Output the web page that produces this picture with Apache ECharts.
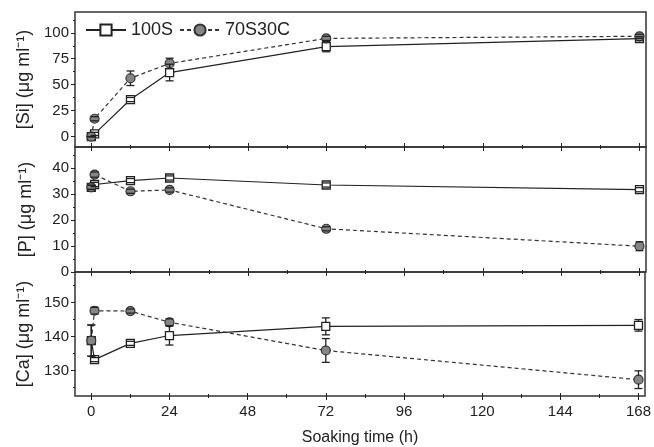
<!DOCTYPE html>
<html>
<head>
<meta charset="utf-8">
<title>Si P Ca release</title>
<style>
  html, body { margin: 0; padding: 0; background: #fff; }
  #chart { width: 654px; height: 447px; }
</style>
</head>
<body>
<div id="chart"></div>
<script src="https://cdn.jsdelivr.net/npm/echarts@6/dist/echarts.min.js"></script>
<script>
// soaking times (h)
const hours = [0, 1, 12, 24, 72, 168];

// [Si]
const siPure = [0, 2.6, 35.7, 61.7, 86.7, 94.3];
const siPureErr = [0, 1.5, 2, 8, 5, 2];
const siMix = [0, 17.2, 56.2, 70.5, 94.6, 96.6];
const siMixErr = [0, 2, 7, 5, 2, 2];

// [P]
const pPure = [32.5, 33.6, 35.1, 36.1, 33.4, 31.6];
const pPureErr = [0.8, 0.8, 0.8, 0.8, 0.8, 0.8];
const pMix = [32.5, 37.4, 31.0, 31.5, 16.6, 9.9];
const pMixErr = [0.8, 1, 0.8, 0.8, 0.8, 1.7];

// [Ca]
const caPure = [138.8, 133.2, 138.0, 140.3, 143.0, 143.3];
const caPureErr = [4.6, 0.6, 0.6, 2.8, 2.5, 1.7];
const caMix = [138.8, 147.6, 147.5, 144.2, 135.9, 127.3];
const caMixErr = [4.6, 1, 0.6, 1, 3.5, 2.6];

// ticks
const xTicks = [0, 24, 48, 72, 96, 120, 144, 168];
const xMinor = [12, 36, 60, 84, 108, 132, 156];
const siTicks = [0, 25, 50, 75, 100];
const siMinor = [12.5, 37.5, 62.5, 87.5, 112.5];
const pTicks = [0, 10, 20, 30, 40];
const pMinor = [5, 15, 25, 35, 45];
const caTicks = [130, 140, 150];
const caMinor = [125, 135, 145, 155];

const seriesNames = ['100S', '70S30C'];

const panels = [
  { name: '[Si] (μg ml⁻¹)', min: -10, max: 120, ticks: siTicks, minor: siMinor,
    pure: siPure, pureErr: siPureErr, mix: siMix, mixErr: siMixErr },
  { name: '[P] (μg ml⁻¹)', min: 0, max: 48, ticks: pTicks, minor: pMinor,
    pure: pPure, pureErr: pPureErr, mix: pMix, mixErr: pMixErr },
  { name: '[Ca] (μg ml⁻¹)', min: 122.5, max: 159, ticks: caTicks, minor: caMinor,
    pure: caPure, pureErr: caPureErr, mix: caMix, mixErr: caMixErr }
];

const FONT = '"Liberation Sans", Arial, sans-serif';
const INK = '#222';
const gridTops = [12, 147, 272];
const gridHeights = [135, 125, 125];

const grids = [], xAxes = [], yAxes = [], series = [];

function tickAxis(gi, values, len, inside, extra) {
  return Object.assign({
    type: 'value', gridIndex: gi, min: -5, max: 170, position: 'bottom',
    axisLine: { show: false, onZero: false },
    axisTick: { show: true, customValues: values, length: len, inside: inside,
                lineStyle: { color: INK, width: 1 } },
    axisLabel: { show: false },
    splitLine: { show: false }
  }, extra || {});
}

function errorSeries(xi, yi, vals, errs) {
  return {
    type: 'custom', xAxisIndex: xi, yAxisIndex: yi, z: 4, silent: true,
    data: hours.map((h, i) => [h, vals[i] - errs[i], vals[i] + errs[i], vals[i]]),
    renderItem: (params, api) => {
      const lo = api.coord([api.value(0), api.value(1)]);
      const hi = api.coord([api.value(0), api.value(2)]);
      const mid = api.coord([api.value(0), api.value(3)]);
      const w = 4, r = 4;
      const style = { stroke: INK, lineWidth: 1.3 };
      const kids = [
        { type: 'line', shape: { x1: lo[0] - w, y1: lo[1], x2: lo[0] + w, y2: lo[1] }, style },
        { type: 'line', shape: { x1: hi[0] - w, y1: hi[1], x2: hi[0] + w, y2: hi[1] }, style }
      ];
      if (hi[1] < mid[1] - r) kids.push({ type: 'line', shape: { x1: hi[0], y1: hi[1], x2: hi[0], y2: mid[1] - r }, style });
      if (lo[1] > mid[1] + r) kids.push({ type: 'line', shape: { x1: lo[0], y1: mid[1] + r, x2: lo[0], y2: lo[1] }, style });
      return { type: 'group', children: kids };
    }
  };
}

panels.forEach((p, gi) => {
  grids.push({ left: 75, right: 8, top: gridTops[gi], height: gridHeights[gi],
               show: true, borderColor: '#333', borderWidth: 1.5, backgroundColor: 'transparent' });

  const last = gi === panels.length - 1;
  const mainX = xAxes.length;
  // main bottom axis: inward major ticks (outward on bottom panel, with labels)
  xAxes.push(tickAxis(gi, xTicks, 4, !last, last ? {
    name: 'Soaking time (h)', nameLocation: 'middle', nameGap: 34,
    nameTextStyle: { fontFamily: FONT, fontSize: 16, color: INK },
    axisLabel: { show: true, customValues: xTicks, margin: 8,
                 fontFamily: FONT, fontSize: 15, color: INK }
  } : {}));
  xAxes.push(tickAxis(gi, xMinor, 2, !last));
  if (!last) {
    // ticks poking down into the next panel
    xAxes.push(tickAxis(gi, xTicks, 4, false));
    xAxes.push(tickAxis(gi, xMinor, 2, false));
  } else {
    xAxes.push(tickAxis(gi, xTicks, 3, true));
    xAxes.push(tickAxis(gi, xMinor, 2, true));
  }

  const mainY = yAxes.length;
  yAxes.push({
    type: 'value', gridIndex: gi, min: p.min, max: p.max, position: 'left',
    name: p.name, nameLocation: 'middle', nameGap: 40,
    nameTextStyle: { fontFamily: FONT, fontSize: 18, color: INK },
    axisLine: { show: false, onZero: false },
    axisTick: { show: true, customValues: p.ticks, length: 4, lineStyle: { color: INK } },
    axisLabel: { customValues: p.ticks, margin: 6, fontFamily: FONT, fontSize: 15, color: INK },
    splitLine: { show: false }
  });
  yAxes.push({
    type: 'value', gridIndex: gi, min: p.min, max: p.max, position: 'left',
    axisLine: { show: false, onZero: false },
    axisTick: { show: true, customValues: p.minor, length: 2, lineStyle: { color: INK } },
    axisLabel: { show: false },
    splitLine: { show: false }
  });

  series.push({
    name: seriesNames[0], type: 'line', xAxisIndex: mainX, yAxisIndex: mainY, z: 3,
    data: hours.map((h, i) => [h, p.pure[i]]),
    symbol: 'rect', symbolSize: 8,
    lineStyle: { color: INK, width: 1.2 },
    itemStyle: { color: '#fff', borderColor: INK, borderWidth: 1.3 }
  });
  series.push({
    name: seriesNames[1], type: 'line', xAxisIndex: mainX, yAxisIndex: mainY, z: 3,
    data: hours.map((h, i) => [h, p.mix[i]]),
    symbol: 'circle', symbolSize: 9,
    lineStyle: { color: '#333', width: 1.2, type: [4, 3] },
    itemStyle: { color: '#858585', borderColor: '#333', borderWidth: 1.2 }
  });
  series.push(errorSeries(mainX, mainY, p.pure, p.pureErr));
  series.push(errorSeries(mainX, mainY, p.mix, p.mixErr));
});

const chart = echarts.init(document.getElementById('chart'), null, { renderer: 'canvas' });
chart.setOption({
  animation: false,
  backgroundColor: '#fff',
  legend: {
    data: seriesNames, left: 80, top: 16, itemWidth: 40, itemHeight: 14, itemGap: 6,
    textStyle: { fontFamily: FONT, fontSize: 18, color: INK }
  },
  grid: grids,
  xAxis: xAxes,
  yAxis: yAxes,
  series: series
});
</script>
</body>
</html>
